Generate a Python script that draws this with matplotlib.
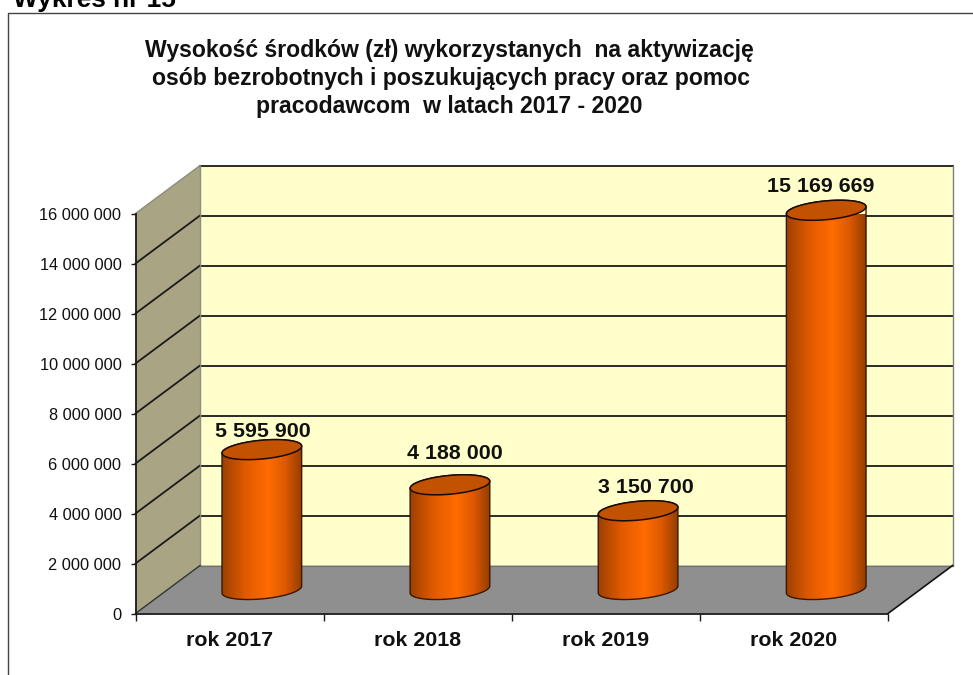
import numpy as np
import matplotlib
matplotlib.use("Agg")
import matplotlib.pyplot as plt
from matplotlib.colors import LinearSegmentedColormap
from matplotlib.lines import Line2D
from matplotlib.patches import Polygon

plt.rcParams["font.family"] = ["Liberation Sans", "DejaVu Sans"]

W, H = 973, 675

categories = ["rok 2017", "rok 2018", "rok 2019", "rok 2020"]
values = [5595900, 4188000, 3150700, 15169669]
value_labels = ["5 595 900", "4 188 000", "3 150 700", "15 169 669"]
y_ticks = [0, 2000000, 4000000, 6000000, 8000000, 10000000, 12000000, 14000000, 16000000]
y_tick_labels = ["0", "2 000 000", "4 000 000", "6 000 000", "8 000 000",
                 "10 000 000", "12 000 000", "14 000 000", "16 000 000"]
title_lines = [
    "Wysokość środków (zł) wykorzystanych  na aktywizację",
    "osób bezrobotnych i poszukujących pracy oraz pomoc",
    "pracodawcom  w latach 2017 - 2020",
]

# depth of the fake 3d box, in data units (axis: 188 px per category, 25 px per million)
DX = 64.5 / 188
DY = 48 * 40000
RX = 39.8 / 188
RY = 9.4 * 40000
TILT = 3.5 * 40000

# label nudges in pixels, the original labels were placed by hand
LABEL_DX = [1, 5, 8, -6]
LABEL_DY = [18, 31, 23, 24]

TEXT = "#111111"
cyl_cmap = LinearSegmentedColormap.from_list(
    "cyl", [(0, "#9c4000"), (0.3, "#e25a00"), (0.58, "#ff6c00"), (0.8, "#dc5800"), (1, "#933d00")])


def ellipse(xc, yc, t):
    return xc + RX * np.cos(t), yc + TILT * np.cos(t) + RY * np.sin(t)


def draw_cylinder(ax, xc, value):
    yb = DY / 2
    yt = yb + value
    # body is the lower half of both ellipses joined up
    t = np.linspace(np.pi, 2 * np.pi, 60)
    xb, ybot = ellipse(xc, yb, t)
    t2 = np.linspace(0, np.pi, 60)
    xt, ytop = ellipse(xc, yt, t2)
    body = np.column_stack([np.r_[xb, xt], np.r_[ybot, ytop]])
    patch = Polygon(body, closed=True, facecolor="none", edgecolor="#3a1800", lw=1,
                    zorder=5, clip_on=False)
    ax.add_patch(patch)
    grad = np.linspace(0, 1, 256).reshape(1, -1)
    im = ax.imshow(grad, extent=[xc - RX, xc + RX, yb - RY * 2, yt + RY * 2], aspect="auto",
                   cmap=cyl_cmap, zorder=4, interpolation="bilinear")
    im.set_clip_path(Polygon(body, closed=True, transform=ax.transData))
    # top face
    t3 = np.linspace(0, 2 * np.pi, 120)
    x3, y3 = ellipse(xc, yt, t3)
    ax.add_patch(Polygon(np.column_stack([x3, y3]), closed=True, facecolor="#c25200",
                         edgecolor="#1a0a00", lw=1.1, zorder=6, clip_on=False))


def main():
    fig = plt.figure(figsize=(W / 100, H / 100), dpi=100, facecolor="white")
    ax = fig.add_axes([135.5 / W, (H - 613.5) / H, 752.5 / W, 400 / H])
    ax.set_facecolor("none")
    top = y_ticks[-1]

    # walls and floor
    ax.add_patch(Polygon([(DX, DY), (4 + DX, DY), (4 + DX, top + DY), (DX, top + DY)],
                         facecolor="#ffffcc", edgecolor="none", zorder=1, clip_on=False))
    ax.add_patch(Polygon([(0, 0), (DX, DY), (DX, top + DY), (0, top)],
                         facecolor="#a8a484", edgecolor="none", zorder=1, clip_on=False))
    ax.add_patch(Polygon([(0, 0), (4, 0), (4 + DX, DY), (DX, DY)],
                         facecolor="#8f8f8f", edgecolor="none", zorder=1, clip_on=False))

    # grid on back wall and left wall
    for v in y_ticks[1:]:
        ax.plot([DX, 4 + DX], [v + DY, v + DY], color="#1a1a1a", lw=1.3, zorder=2, clip_on=False)
    for v in y_ticks[1:-1]:
        ax.plot([0, DX], [v, v + DY], color="#1a1a1a", lw=1.3, zorder=2, clip_on=False)

    # box edges
    ax.plot([0, DX], [top, top + DY], color="#8c8c80", lw=1, zorder=2, clip_on=False)
    ax.plot([DX, DX], [0 + DY, top + DY], color="#8c8c80", lw=1, zorder=2, clip_on=False)
    ax.plot([4 + DX, 4 + DX], [DY, top + DY], color="#808080", lw=1, zorder=2, clip_on=False)
    ax.plot([DX, 4 + DX], [DY, DY], color="#707070", lw=0.8, zorder=2, clip_on=False)
    ax.plot([0, DX], [0, DY], color="#333333", lw=1, zorder=2, clip_on=False)
    ax.plot([4, 4 + DX], [0, DY], color="#111111", lw=1.2, zorder=2, clip_on=False)

    for i, v in enumerate(values):
        xc = i + 0.5 + DX / 2
        draw_cylinder(ax, xc, v)
        ax.annotate(value_labels[i], (xc, DY / 2 + v), xytext=(LABEL_DX[i], LABEL_DY[i]),
                    textcoords="offset pixels", ha="center", va="center", fontsize=15.4,
                    fontweight="bold", color=TEXT, zorder=7, annotation_clip=False)

    ax.set_xlim(0, 4)
    ax.set_ylim(0, top)
    ax.set_yticks(y_ticks)
    ax.set_yticklabels(y_tick_labels, fontsize=11.8, color=TEXT)
    ax.tick_params(axis="y", length=3.6, width=1, pad=6.5, color="#1a1a1a")
    ax.set_xticks([0, 1, 2, 3, 4])
    ax.set_xticklabels([])
    ax.tick_params(axis="x", which="major", length=5, width=1, color="#1a1a1a")
    ax.set_xticks([0.5, 1.5, 2.5, 3.5], minor=True)
    ax.set_xticklabels(categories, minor=True, fontsize=15.4, fontweight="bold", color=TEXT)
    ax.tick_params(axis="x", which="minor", length=0, pad=12.5)
    for name in ["top", "right"]:
        ax.spines[name].set_visible(False)
    for name in ["left", "bottom"]:
        ax.spines[name].set_color("#1a1a1a")
        ax.spines[name].set_linewidth(1.3)
        ax.spines[name].set_zorder(3)

    # frame of the embedded picture, only top and left show
    fig.add_artist(Line2D([7.5 / W, 7.5 / W, 1], [0, 1 - 13 / H, 1 - 13 / H], color="#444444", lw=1))
    # the reference has this heading cut by the top edge too
    fig.text(13 / W, 1 - 7 / H, "Wykres nr 15", fontsize=18.9, fontweight="bold", color="black",
             ha="left", va="baseline")

    for line, x, y in zip(title_lines, [449, 451, 449], [50, 78, 107]):
        fig.text(x / W, 1 - y / H, line, fontsize=16.6, fontweight="bold", color=TEXT,
                 ha="center", va="center")

    fig.savefig("out.png", dpi=100)


if __name__ == "__main__":
    main()
